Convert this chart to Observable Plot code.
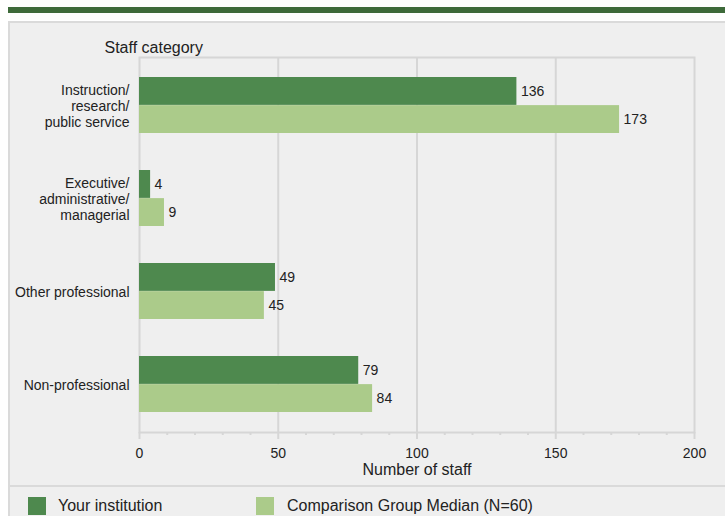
<!DOCTYPE html>
<html>
<head>
<meta charset="utf-8">
<script src="https://cdn.jsdelivr.net/npm/d3@7"></script>
<script src="https://cdn.jsdelivr.net/npm/@observablehq/plot@0.6"></script>
<style>
  html, body { margin: 0; padding: 0; background: #ffffff; width: 725px; height: 516px; overflow: hidden; }
  body { position: relative; font-family: "Liberation Sans", Arial, sans-serif; }
  #stripe { position: absolute; left: 8px; top: 7px; width: 717px; height: 6px; background: #3e6a3a; }
  #panel { position: absolute; left: 8px; top: 21px; width: 717px; height: 495px; box-sizing: border-box;
           background: #efefef; border-top: 2px solid #dadada; border-left: 2px solid #dadada; }
  #sep { position: absolute; left: 8px; top: 485px; width: 717px; height: 2px; background: #dadada; }
  #chart { position: absolute; left: 8px; top: 21px; }
  .key { position: absolute; top: 497px; width: 18px; height: 18px; }
  .lbl { position: absolute; top: 496px; font-size: 16px; line-height: 19px; color: #222; }
</style>
</head>
<body>
<div id="stripe"></div>
<div id="panel"></div>
<div id="sep"></div>
<div id="chart"></div>
<div id="legend"></div>
<script>
const categories = [
  "Instruction/\nresearch/\npublic service",
  "Executive/\nadministrative/\nmanagerial",
  "Other professional",
  "Non-professional"
];
const yourInstitution = [136, 4, 49, 79];
const comparisonMedian = [173, 9, 45, 84];
const seriesNames = ["Your institution", "Comparison Group Median (N=60)"];
const seriesColors = ["#4e894e", "#abcb8a"];
const xTicks = [0, 50, 100, 150, 200];
const xMinorTicks = [10, 20, 30, 40, 60, 70, 80, 90, 110, 120, 130, 140, 160, 170, 180, 190];
const gridTicks = [50, 100, 150];
const yTitle = "Staff category";
const xTitle = "Number of staff";

const rows = categories.map((c, i) => ({category: c, your: yourInstitution[i], comp: comparisonMedian[i]}));
const grey = "#d6d6d6";

const chart = Plot.plot({
  width: 717,
  height: 465,
  marginLeft: 131,
  marginRight: 31,
  marginTop: 36,
  marginBottom: 54,
  style: {background: "transparent", fontSize: "14px", fontFamily: "'Liberation Sans', Arial, sans-serif", color: "#222"},
  x: {domain: [0, 200]},
  y: {domain: categories, paddingInner: 0.4, paddingOuter: 0.2, axis: null},
  marks: [
    Plot.ruleX(gridTicks, {stroke: grey, strokeWidth: 2}),
    Plot.ruleX(xMinorTicks, {stroke: grey, strokeWidth: 2, insetTop: 375, insetBottom: -3}),
    Plot.ruleX(xTicks, {stroke: grey, strokeWidth: 2, insetTop: 375, insetBottom: -7}),
    Plot.frame({stroke: grey, strokeWidth: 2}),
    Plot.barX(rows, {x: "your", y: "category", fill: seriesColors[0], insetBottom: 28.125}),
    Plot.barX(rows, {x: "comp", y: "category", fill: seriesColors[1], insetTop: 28.125}),
    Plot.text(rows, {x: "your", y: "category", text: d => String(d.your), dx: 4, dy: -14, textAnchor: "start", fill: "#222"}),
    Plot.text(rows, {x: "comp", y: "category", text: d => String(d.comp), dx: 4, dy: 14, textAnchor: "start", fill: "#222"}),
    Plot.text(categories, {x: 0, y: d => d, text: d => d, textAnchor: "end", dx: -10, lineHeight: 1.15, fill: "#222"}),
    Plot.axisX(xTicks, {tickSize: 0, tickPadding: 16, label: null, fill: "#222"}),
    Plot.text([xTitle], {frameAnchor: "bottom", dy: 42, fontSize: 16, fill: "#222"}),
    Plot.text([yTitle], {frameAnchor: "top-left", dx: -35, dy: -16, textAnchor: "start", fontSize: 16, fill: "#222"})
  ]
});
document.getElementById("chart").appendChild(chart);

const legend = document.getElementById("legend");
const keyX = [28, 256];
const lblX = [58, 287];
seriesNames.forEach((name, i) => {
  const k = document.createElement("div");
  k.className = "key";
  k.style.left = keyX[i] + "px";
  k.style.background = seriesColors[i];
  legend.appendChild(k);
  const t = document.createElement("div");
  t.className = "lbl";
  t.style.left = lblX[i] + "px";
  t.textContent = name;
  legend.appendChild(t);
});
</script>
</body>
</html>
